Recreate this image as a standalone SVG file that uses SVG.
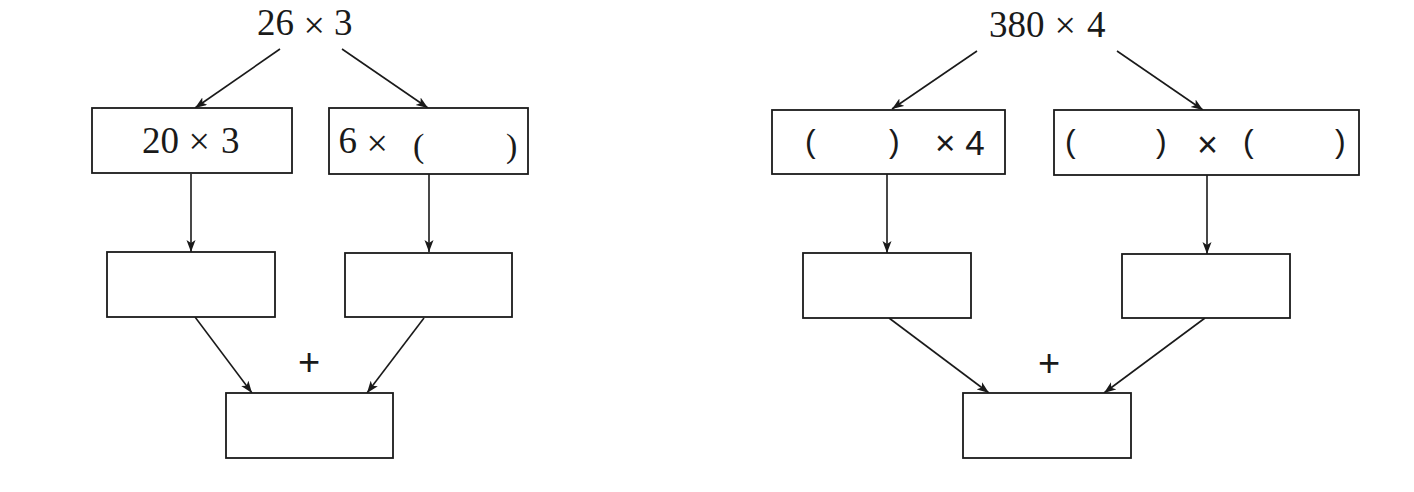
<svg xmlns="http://www.w3.org/2000/svg" width="1414" height="492" viewBox="0 0 1414 492">
  <style>
    .box { fill: #ffffff; stroke: #1a1a1a; stroke-width: 1.8; }
    .edge { fill: none; stroke: #1a1a1a; stroke-width: 1.6; marker-end: url(#arrow); }
    .serif { font-family: "Liberation Serif", "Times New Roman", serif; font-size: 37px; fill: #1a1a1a; }
    .times { font-size: 38px; }
    .sans { font-family: "Liberation Sans", Arial, sans-serif; fill: #1a1a1a; }
    .paren { font-family: "Liberation Sans", Arial, sans-serif; font-size: 32px; fill: #1a1a1a; }
    .sparen { font-family: "Liberation Serif", "Times New Roman", serif; font-size: 34px; fill: #1a1a1a; }
    .plus { font-family: "Liberation Sans", Arial, sans-serif; font-size: 38px; fill: #1a1a1a; }
  </style>
  <defs>
    <marker id="arrow" markerUnits="userSpaceOnUse" markerWidth="14" markerHeight="10" refX="12" refY="4.5" orient="auto">
      <path d="M0,0 L12,4.5 L0,9 L3,4.5 z" fill="#1a1a1a"/>
    </marker>
  </defs>
  <rect width="1414" height="492" fill="#ffffff"/>

  <g id="connectors">
    <line class="edge" x1="280" y1="49" x2="195" y2="108"/>
    <line class="edge" x1="342" y1="49" x2="428" y2="108"/>
    <line class="edge" x1="191" y1="174" x2="191" y2="252"/>
    <line class="edge" x1="429" y1="174" x2="429" y2="252"/>
    <line class="edge" x1="195" y1="317" x2="252" y2="393"/>
    <line class="edge" x1="424" y1="318" x2="367" y2="393"/>

    <line class="edge" x1="977" y1="51" x2="892" y2="109"/>
    <line class="edge" x1="1117" y1="51" x2="1203" y2="110"/>
    <line class="edge" x1="887" y1="174" x2="887" y2="253"/>
    <line class="edge" x1="1207" y1="175" x2="1207" y2="254"/>
    <line class="edge" x1="889" y1="318" x2="989" y2="393"/>
    <line class="edge" x1="1205" y1="318" x2="1104" y2="393"/>
  </g>

  <!-- Left tree -->
  <g id="root-left">
    <text class="serif"><tspan x="257" y="35">26</tspan><tspan class="times" x="303.5" y="37.5">×</tspan><tspan x="334" y="35">3</tspan></text>
  </g>
  <g id="box-20x3">
    <rect class="box" x="92" y="108" width="200" height="65"/>
    <text class="serif"><tspan x="142" y="153">20</tspan><tspan class="times" x="188.5" y="154">×</tspan><tspan x="221" y="153">3</tspan></text>
  </g>
  <g id="box-6x">
    <rect class="box" x="329" y="108" width="199" height="66"/>
    <text class="serif"><tspan x="338.5" y="153">6</tspan><tspan class="times" x="366.5" y="156">×</tspan><tspan class="sparen" x="413" y="157">(</tspan><tspan class="sparen" x="506" y="157">)</tspan></text>
  </g>
  <g id="box-left-a">
    <rect class="box" x="107" y="252" width="168" height="65"/>
  </g>
  <g id="box-left-b">
    <rect class="box" x="345" y="253" width="167" height="64"/>
  </g>
  <g id="plus-left">
    <text class="plus" x="309" y="375" text-anchor="middle">+</text>
  </g>
  <g id="box-left-sum">
    <rect class="box" x="226" y="393" width="167" height="65"/>
  </g>

  <!-- Right tree -->
  <g id="root-right">
    <text class="serif"><tspan x="989" y="37">380</tspan><tspan class="times" x="1054.5" y="37.5">×</tspan><tspan x="1087" y="37">4</tspan></text>
  </g>
  <g id="box-x4">
    <rect class="box" x="772" y="110" width="233" height="64"/>
    <text class="paren" y="152"><tspan x="805">(</tspan><tspan x="889">)</tspan></text>
    <text class="sans" font-size="35" x="935" y="155">× 4</text>
  </g>
  <g id="box-pxp">
    <rect class="box" x="1054" y="110" width="305" height="65"/>
    <text class="paren" y="152"><tspan x="1065">(</tspan><tspan x="1156">)</tspan><tspan x="1243">(</tspan><tspan x="1335">)</tspan></text>
    <text class="sans" font-size="36" x="1197" y="157">×</text>
  </g>
  <g id="box-right-a">
    <rect class="box" x="803" y="253" width="168" height="65"/>
  </g>
  <g id="box-right-b">
    <rect class="box" x="1122" y="254" width="168" height="64"/>
  </g>
  <g id="plus-right">
    <text class="plus" x="1049" y="376" text-anchor="middle">+</text>
  </g>
  <g id="box-right-sum">
    <rect class="box" x="963" y="393" width="168" height="65"/>
  </g>
</svg>
